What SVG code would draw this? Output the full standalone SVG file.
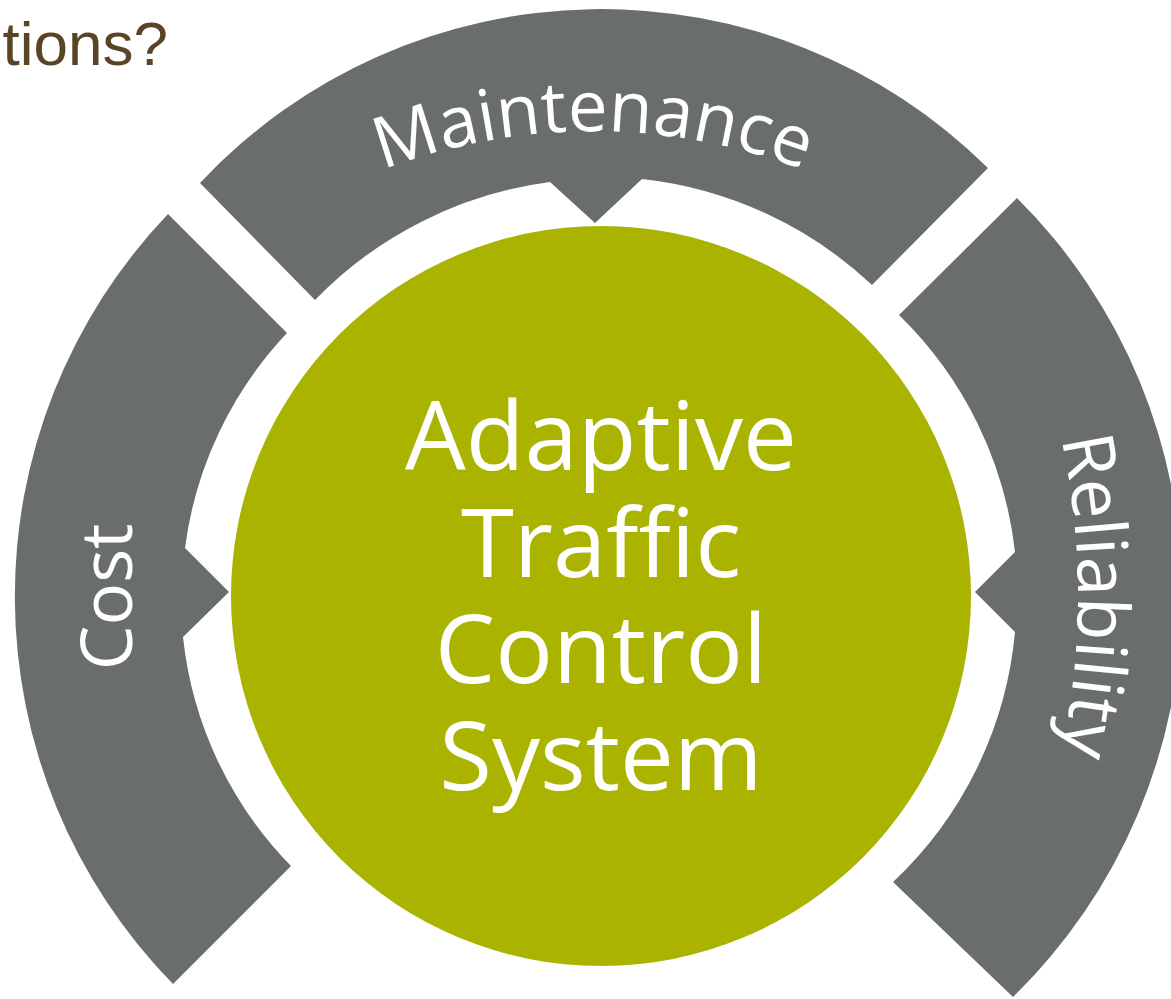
<svg xmlns="http://www.w3.org/2000/svg" width="1171" height="999" viewBox="0 0 1171 999">
  <style>
    .seg { fill: #6a6d6e; }
    .hub { fill: #a9b300; }
    .lbl { font-family: "Open Sans", "Noto Sans", sans-serif; fill: #ffffff; font-size: 71px; }
    .hubtxt { font-family: "Open Sans", "Noto Sans", sans-serif; fill: #ffffff; font-size: 96px; text-anchor: middle; }
    .title { font-family: "Liberation Sans", Arial, sans-serif; fill: #594426; font-size: 62px; }
  </style>
  <defs>
    <path id="maintArc" d="M141,342 A590,590 0 0 1 1045,342"/>
    <path id="relArc" d="M977.5,221 A750,750 0 0 1 977.5,971"/>
  </defs>
  <rect width="1171" height="999" fill="#ffffff"/>
  <text class="title" x="168" y="65" text-anchor="end">tions?</text>

  <g id="maintenance">
    <path class="seg" d="M200,183 A550,550 0 0 1 988,168 L872,285 A400,400 0 0 0 642,179 L595,223 L550,182 A400,400 0 0 0 315,300 Z"/>
    <text class="lbl"><textPath href="#maintArc" startOffset="50%" text-anchor="middle">Maintenance</textPath></text>
  </g>

  <g id="cost">
    <path class="seg" d="M168,214 L287,333 A385,385 0 0 0 185,548 L229,592 L183,637 A385,385 0 0 0 291,866 L173,984 A554,554 0 0 1 168,214 Z"/>
    <text class="lbl" text-anchor="middle" transform="translate(132,597) rotate(-90)">Cost</text>
  </g>

  <g id="reliability">
    <path class="seg" d="M1017,198 A561,561 0 0 1 1013,997 L893,882 A392,392 0 0 0 1015,632 L975,592 L1015,552 A392,392 0 0 0 899,315 Z"/>
    <text class="lbl"><textPath href="#relArc" startOffset="50%" text-anchor="middle">Reliability</textPath></text>
  </g>

  <g id="hub">
    <circle class="hub" cx="601" cy="596" r="370"/>
    <text class="hubtxt" x="601" y="470">Adaptive</text>
    <text class="hubtxt" x="601" y="577">Traffic</text>
    <text class="hubtxt" x="601" y="683">Control</text>
    <text class="hubtxt" x="601" y="790">System</text>
  </g>
</svg>
